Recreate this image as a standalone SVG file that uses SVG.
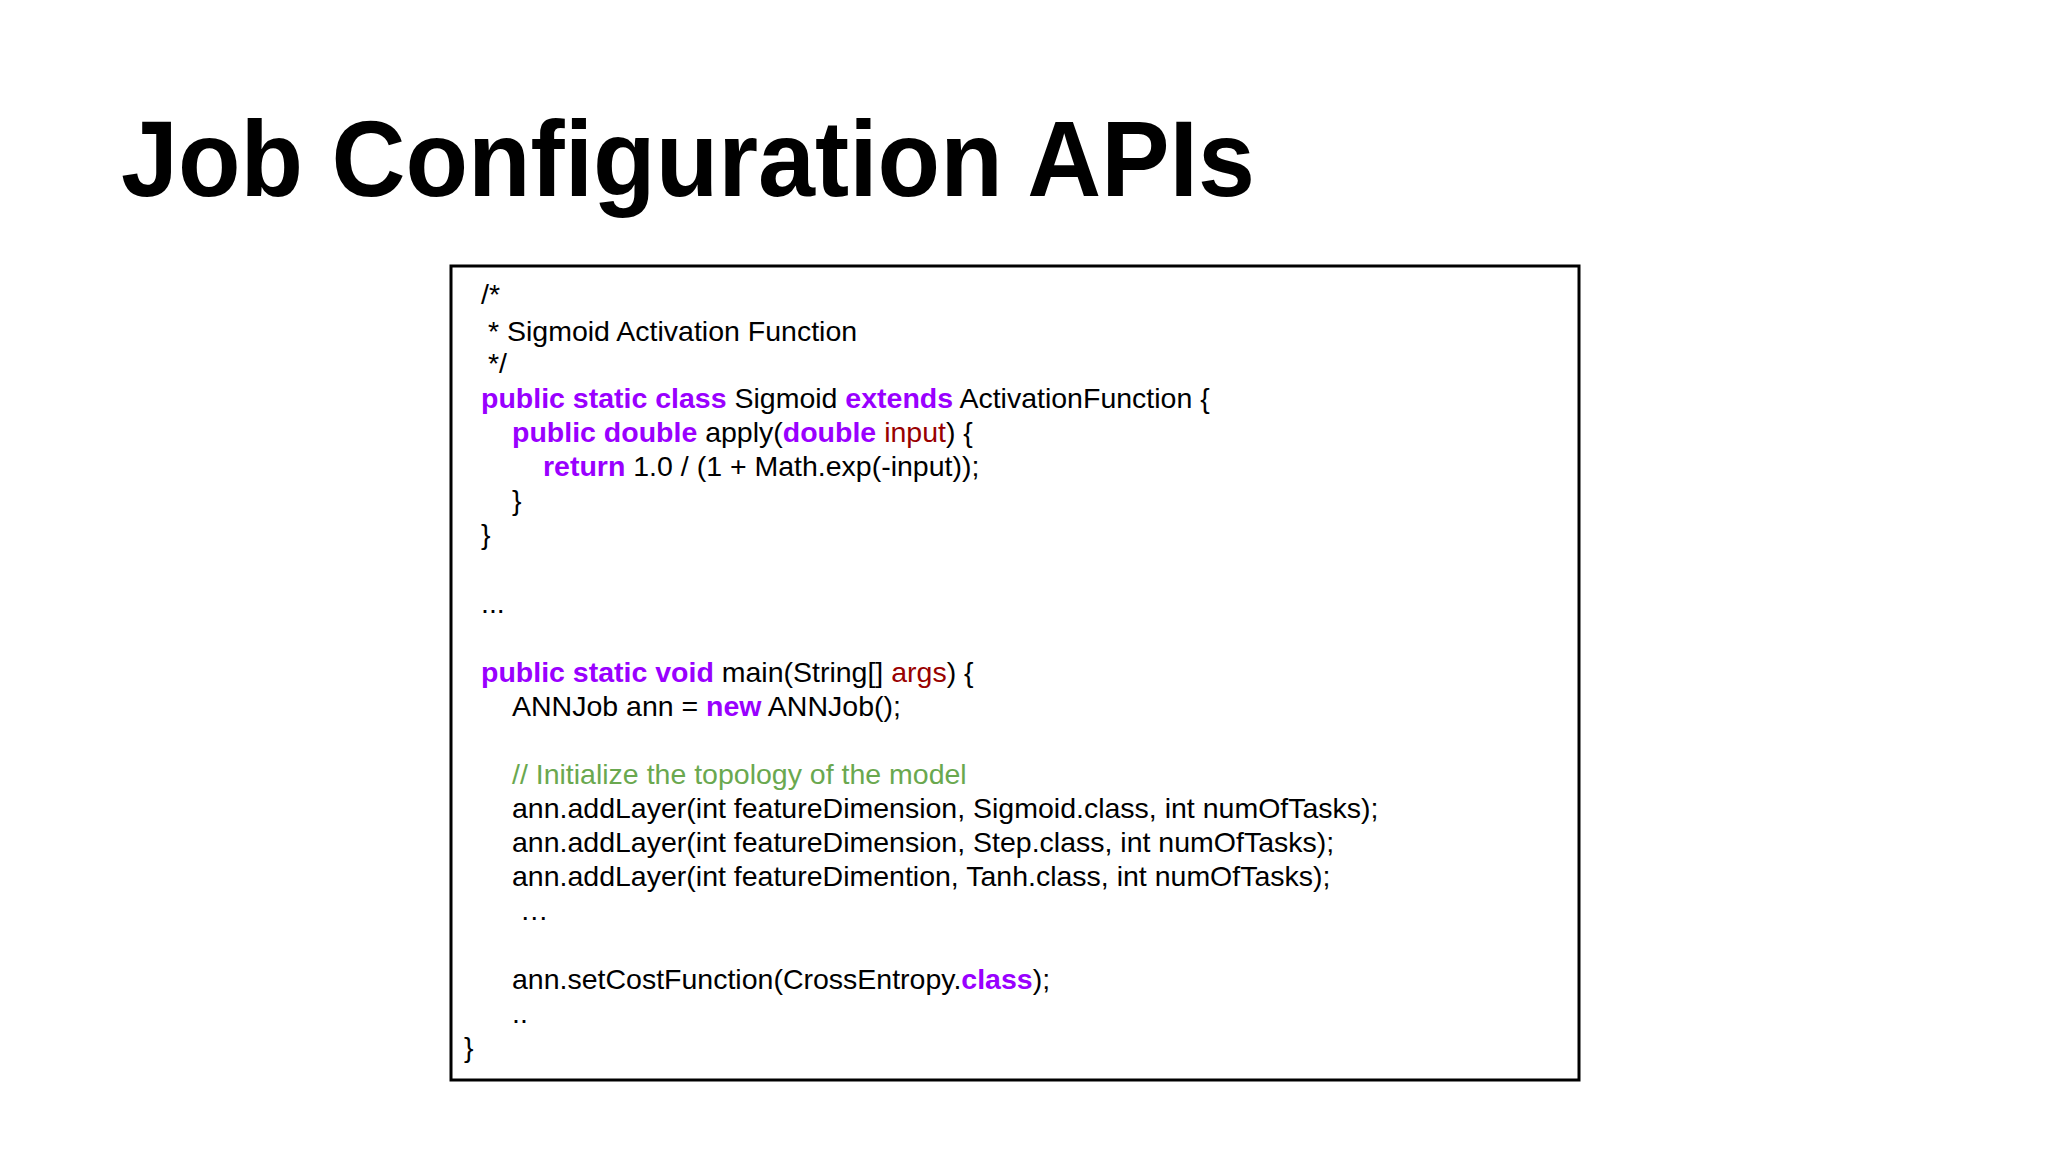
<svg xmlns="http://www.w3.org/2000/svg" width="2048" height="1152" viewBox="0 0 2048 1152">
<style>
.c{font-family:"Liberation Sans",Arial,sans-serif;font-size:28.5px;fill:#000}
.k{fill:#9900ff;font-weight:bold}
.r{fill:#990000}
.g{fill:#6aa84f}
</style>
<rect width="2048" height="1152" fill="#fff"/>
<text x="121" y="196" font-family="Liberation Sans,Arial,sans-serif" font-weight="bold" font-size="108" fill="#000" textLength="1134" lengthAdjust="spacingAndGlyphs">Job Configuration APIs</text>
<g id="codebox">
<rect x="451" y="266" width="1128" height="814" fill="#fff" stroke="#000" stroke-width="3"/>
<text class="c">
<tspan x="481" y="304">/*</tspan>
<tspan x="488" y="341">* Sigmoid Activation Function</tspan>
<tspan x="488" y="373">*/</tspan>
<tspan x="481" y="408"><tspan class="k">public static class</tspan> Sigmoid <tspan class="k">extends</tspan> ActivationFunction {</tspan>
<tspan x="512" y="442"><tspan class="k">public double</tspan> apply(<tspan class="k">double</tspan> <tspan class="r">input</tspan>) {</tspan>
<tspan x="543" y="476"><tspan class="k">return</tspan> 1.0 / (1 + Math.exp(-input));</tspan>
<tspan x="512" y="510">}</tspan>
<tspan x="481" y="544">}</tspan>
<tspan x="481" y="613">...</tspan>
<tspan x="481" y="682"><tspan class="k">public static void</tspan> main(String[] <tspan class="r">args</tspan>) {</tspan>
<tspan x="512" y="716">ANNJob ann = <tspan class="k">new</tspan> ANNJob();</tspan>
<tspan x="512" y="784" class="g">// Initialize the topology of the model</tspan>
<tspan x="512" y="818">ann.addLayer(int featureDimension, Sigmoid.class, int numOfTasks);</tspan>
<tspan x="512" y="852">ann.addLayer(int featureDimension, Step.class, int numOfTasks);</tspan>
<tspan x="512" y="886">ann.addLayer(int featureDimention, Tanh.class, int numOfTasks);</tspan>
<tspan x="520" y="920">…</tspan>
<tspan x="512" y="989">ann.setCostFunction(CrossEntropy.<tspan class="k">class</tspan>);</tspan>
<tspan x="512" y="1023">..</tspan>
<tspan x="464" y="1057">}</tspan>
</text>
</g>
</svg>
